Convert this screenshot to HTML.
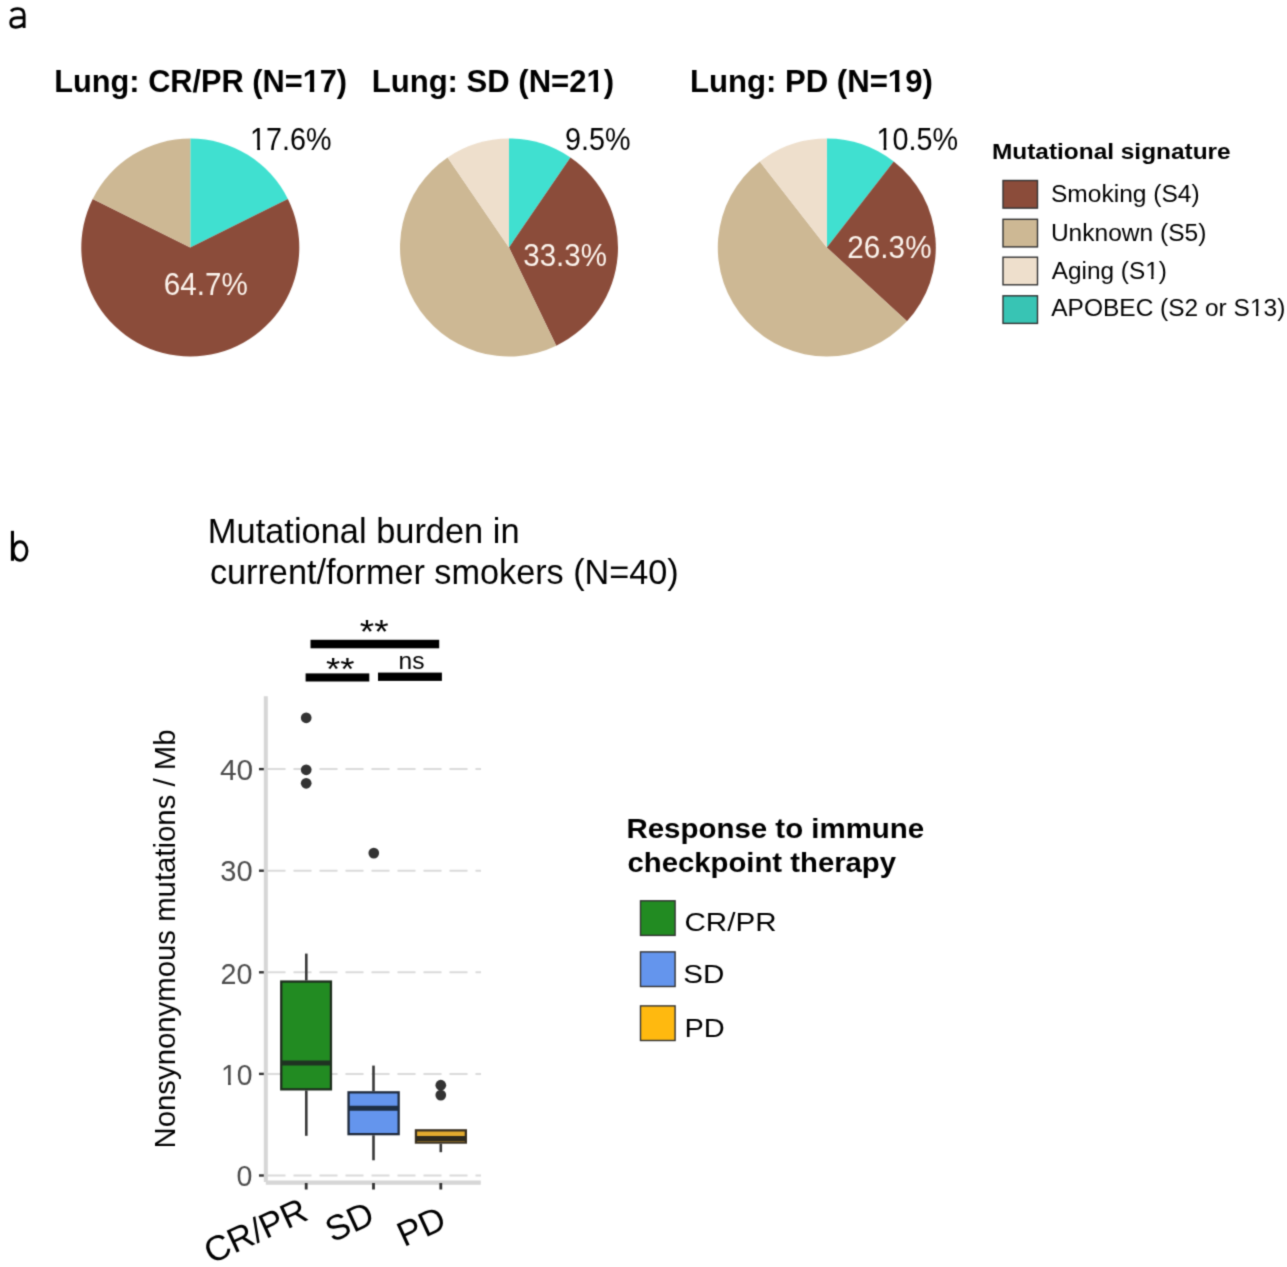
<!DOCTYPE html>
  <html><head><meta charset="utf-8"><style>
  html,body{margin:0;padding:0;background:#fff;}
  svg{display:block;font-family:"Liberation Sans",sans-serif;}
  </style></head><body>
  <svg width="1287" height="1267" viewBox="0 0 1287 1267">
  <defs><filter id="bl" filterUnits="userSpaceOnUse" color-interpolation-filters="sRGB" x="0" y="0" width="1287" height="1267"><feConvolveMatrix order="3" kernelMatrix="0.02778 0.11111 0.02778 0.11111 0.44444 0.11111 0.02778 0.11111 0.02778" edgeMode="duplicate"/></filter></defs>
  <rect width="1287" height="1267" fill="#fff"/>
  <g filter="url(#bl)">
  <path d="M190.30,247.50 L190.30,138.50 A109,109 0 0 1 287.87,198.91 Z" fill="#40E0D0"/>
<path d="M190.30,247.50 L287.87,198.91 A109,109 0 1 1 92.73,198.91 Z" fill="#8B4C3A"/>
<path d="M190.30,247.50 L92.73,198.91 A109,109 0 0 1 190.30,138.50 Z" fill="#CDB894"/>

<path d="M509.00,247.50 L509.00,138.50 A109,109 0 0 1 570.40,157.44 Z" fill="#40E0D0"/>
<path d="M509.00,247.50 L570.40,157.44 A109,109 0 0 1 556.29,345.71 Z" fill="#8B4C3A"/>
<path d="M509.00,247.50 L556.29,345.71 A109,109 0 0 1 447.60,157.44 Z" fill="#CDB894"/>
<path d="M509.00,247.50 L447.60,157.44 A109,109 0 0 1 509.00,138.50 Z" fill="#EEDFCC"/>
<path d="M826.80,247.50 L826.80,138.50 A109,109 0 0 1 893.75,161.48 Z" fill="#40E0D0"/>
<path d="M826.80,247.50 L893.75,161.48 A109,109 0 0 1 906.99,321.32 Z" fill="#8B4C3A"/>
<path d="M826.80,247.50 L906.99,321.32 A109,109 0 1 1 759.85,161.48 Z" fill="#CDB894"/>
<path d="M826.80,247.50 L759.85,161.48 A109,109 0 0 1 826.80,138.50 Z" fill="#EEDFCC"/>
<text x="54.28" y="92.3" font-size="32" font-weight="bold" fill="#000" textLength="292.84" lengthAdjust="spacingAndGlyphs">Lung: CR/PR (N=17)</text>
<text x="371.76" y="92.3" font-size="32" font-weight="bold" fill="#000" textLength="242.37" lengthAdjust="spacingAndGlyphs">Lung: SD (N=21)</text>
<text x="689.96" y="92.3" font-size="32" font-weight="bold" fill="#000" textLength="242.88" lengthAdjust="spacingAndGlyphs">Lung: PD (N=19)</text>
<text x="250.12" y="150.1" font-size="30.5" font-weight="normal" fill="#000" textLength="81.38" lengthAdjust="spacingAndGlyphs">17.6%</text>
<text x="564.96" y="150.1" font-size="30.5" font-weight="normal" fill="#000" textLength="65.54" lengthAdjust="spacingAndGlyphs">9.5%</text>
<text x="876.52" y="150.1" font-size="30.5" font-weight="normal" fill="#000" textLength="81.48" lengthAdjust="spacingAndGlyphs">10.5%</text>
<text x="163.76" y="294.7" font-size="30.5" font-weight="normal" fill="#FBF3EC" textLength="83.98" lengthAdjust="spacingAndGlyphs">64.7%</text>
<text x="523.33" y="265.7" font-size="30.5" font-weight="normal" fill="#FBF3EC" textLength="83.60" lengthAdjust="spacingAndGlyphs">33.3%</text>
<text x="847.35" y="257.5" font-size="30.5" font-weight="normal" fill="#FBF3EC" textLength="84.19" lengthAdjust="spacingAndGlyphs">26.3%</text>
<text x="991.99" y="159.2" font-size="22" font-weight="bold" fill="#000" textLength="238.65" lengthAdjust="spacingAndGlyphs">Mutational signature</text>
<text x="1051.01" y="202.4" font-size="24.7" font-weight="normal" fill="#000" textLength="148.65" lengthAdjust="spacingAndGlyphs">Smoking (S4)</text>
<text x="1050.91" y="240.6" font-size="24.7" font-weight="normal" fill="#000" textLength="155.40" lengthAdjust="spacingAndGlyphs">Unknown (S5)</text>
<text x="1051.70" y="278.7" font-size="24.7" font-weight="normal" fill="#000" textLength="115.12" lengthAdjust="spacingAndGlyphs">Aging (S1)</text>
<text x="1051.30" y="315.7" font-size="24.7" font-weight="normal" fill="#000" textLength="233.99" lengthAdjust="spacingAndGlyphs">APOBEC (S2 or S13)</text>
<text x="207.89" y="542.6" font-size="34.3" font-weight="normal" fill="#000" textLength="311.71" lengthAdjust="spacingAndGlyphs">Mutational burden in</text>
<text x="209.90" y="584.3" font-size="34.3" font-weight="normal" fill="#000" textLength="468.89" lengthAdjust="spacingAndGlyphs">current/former smokers (N=40)</text>
<text x="359.77" y="642.5" font-size="32.8" font-weight="normal" fill="#000" textLength="28.83" lengthAdjust="spacingAndGlyphs">**</text>
<text x="325.93" y="680.2" font-size="31.3" font-weight="normal" fill="#000" textLength="28.49" lengthAdjust="spacingAndGlyphs">**</text>
<text x="398.61" y="669.0" font-size="23.5" font-weight="normal" fill="#000" textLength="25.96" lengthAdjust="spacingAndGlyphs">ns</text>
<text x="219.97" y="780.0" font-size="29" font-weight="normal" fill="#4D4D4D" textLength="33.23" lengthAdjust="spacingAndGlyphs">40</text>
<text x="220.30" y="881.0" font-size="29" font-weight="normal" fill="#4D4D4D" textLength="32.37" lengthAdjust="spacingAndGlyphs">30</text>
<text x="220.61" y="984.0" font-size="29" font-weight="normal" fill="#4D4D4D" textLength="31.94" lengthAdjust="spacingAndGlyphs">20</text>
<text x="221.05" y="1085.0" font-size="29" font-weight="normal" fill="#4D4D4D" textLength="31.49" lengthAdjust="spacingAndGlyphs">10</text>
<text x="236.51" y="1186.3" font-size="29" font-weight="normal" fill="#4D4D4D" textLength="15.91" lengthAdjust="spacingAndGlyphs">0</text>
<text x="626.42" y="838.0" font-size="28.3" font-weight="bold" fill="#000" textLength="297.80" lengthAdjust="spacingAndGlyphs">Response to immune</text>
<text x="627.46" y="872.2" font-size="28.3" font-weight="bold" fill="#000" textLength="268.60" lengthAdjust="spacingAndGlyphs">checkpoint therapy</text>
<text x="684.49" y="931.0" font-size="26.6" font-weight="normal" fill="#000" textLength="92.06" lengthAdjust="spacingAndGlyphs">CR/PR</text>
<text x="683.38" y="983.4" font-size="26.6" font-weight="normal" fill="#000" textLength="41.08" lengthAdjust="spacingAndGlyphs">SD</text>
<text x="684.42" y="1037.1" font-size="26.6" font-weight="normal" fill="#000" textLength="40.32" lengthAdjust="spacingAndGlyphs">PD</text>
<path d="M11.0,11.3 C12.8,9.2 15.2,8.6 17.6,8.6 C21.6,8.6 24.1,10.4 24.1,14.6 L24.1,28 M24.1,17.7 L17.2,17.7 C12.9,17.7 10.75,19.8 10.75,22.8 C10.75,25.8 12.9,27.2 15.7,27.2 C19.2,27.2 22.2,25.6 24.1,23.2" fill="none" stroke="#000" stroke-width="2.9"/>
<line x1="12.45" y1="530.85" x2="12.45" y2="560.8" stroke="#000" stroke-width="3.1"/>
<ellipse cx="20.05" cy="551.05" rx="6.9" ry="9.3" fill="none" stroke="#000" stroke-width="2.9"/>
<rect x="1003" y="180.5" width="34.5" height="27.6" fill="#8B4C3A" stroke="#333" stroke-width="1.4"/>
<rect x="1003" y="219.3" width="34.5" height="27.6" fill="#CDB894" stroke="#333" stroke-width="1.4"/>
<rect x="1003" y="257.2" width="34.5" height="27.6" fill="#EEDFCC" stroke="#333" stroke-width="1.4"/>
<rect x="1003" y="295.8" width="34.5" height="27.6" fill="#38C4B4" stroke="#333" stroke-width="1.4"/>
<rect x="310.5" y="639.8" width="128.7" height="8.5" fill="#000"/>
<rect x="305.6" y="673.4" width="63.7" height="8.1" fill="#000"/>
<rect x="378" y="672.6" width="63.9" height="8.3" fill="#000"/>
<line x1="267.5" y1="1175.5" x2="481" y2="1175.5" stroke="#DADADA" stroke-width="2" stroke-dasharray="18 8"/>
<line x1="259" y1="1175.5" x2="266" y2="1175.5" stroke="#333" stroke-width="2.4"/>
<line x1="267.5" y1="1073.9" x2="481" y2="1073.9" stroke="#DADADA" stroke-width="2" stroke-dasharray="18 8"/>
<line x1="259" y1="1073.9" x2="266" y2="1073.9" stroke="#333" stroke-width="2.4"/>
<line x1="267.5" y1="972.3" x2="481" y2="972.3" stroke="#DADADA" stroke-width="2" stroke-dasharray="18 8"/>
<line x1="259" y1="972.3" x2="266" y2="972.3" stroke="#333" stroke-width="2.4"/>
<line x1="267.5" y1="870.7" x2="481" y2="870.7" stroke="#DADADA" stroke-width="2" stroke-dasharray="18 8"/>
<line x1="259" y1="870.7" x2="266" y2="870.7" stroke="#333" stroke-width="2.4"/>
<line x1="267.5" y1="769.1" x2="481" y2="769.1" stroke="#DADADA" stroke-width="2" stroke-dasharray="18 8"/>
<line x1="259" y1="769.1" x2="266" y2="769.1" stroke="#333" stroke-width="2.4"/>
<line x1="265.8" y1="696.2" x2="265.8" y2="1182" stroke="#D6D6D6" stroke-width="4"/>
<line x1="265.8" y1="1182.6" x2="480.8" y2="1182.6" stroke="#D6D6D6" stroke-width="4.2"/>
<line x1="306.2" y1="1183" x2="306.2" y2="1189.5" stroke="#333" stroke-width="2.8"/>
<line x1="373.5" y1="1183" x2="373.5" y2="1189.5" stroke="#333" stroke-width="2.8"/>
<line x1="440.8" y1="1183" x2="440.8" y2="1189.5" stroke="#333" stroke-width="2.8"/>
<line x1="306.3" y1="953.6" x2="306.3" y2="980.4" stroke="#383838" stroke-width="2.6"/>
<line x1="306.3" y1="1090.5" x2="306.3" y2="1135.8" stroke="#383838" stroke-width="2.6"/>
<rect x="281.25" y="981.55" width="49.7" height="107.80000000000003" fill="#228B22" stroke="#1E2E1E" stroke-width="2.3"/>
<line x1="281.25" y1="1063.1" x2="330.95000000000005" y2="1063.1" stroke="#1F3322" stroke-width="5"/>
<line x1="373.5" y1="1065.6" x2="373.5" y2="1091.2" stroke="#383838" stroke-width="2.6"/>
<line x1="373.5" y1="1135.3" x2="373.5" y2="1160.3" stroke="#383838" stroke-width="2.6"/>
<rect x="348.54999999999995" y="1092.3500000000001" width="50.10000000000004" height="41.79999999999991" fill="#6495ED" stroke="#1F2A3C" stroke-width="2.3"/>
<line x1="348.54999999999995" y1="1108.3" x2="398.65000000000003" y2="1108.3" stroke="#1E2F45" stroke-width="5"/>
<line x1="440.8" y1="1143.7" x2="440.8" y2="1152.2" stroke="#383838" stroke-width="2.6"/>
<rect x="415.95" y="1130.3500000000001" width="49.89999999999999" height="12.2" fill="#E2AA2E" stroke="#3A3020" stroke-width="2.3"/>
<line x1="415.95" y1="1138.6" x2="465.85" y2="1138.6" stroke="#2E2A1E" stroke-width="5"/>
<circle cx="306.2" cy="717.8" r="5.35" fill="#333"/>
<circle cx="306.2" cy="769.8" r="5.35" fill="#333"/>
<circle cx="306.2" cy="783.3" r="5.35" fill="#333"/>
<circle cx="373.8" cy="853.1" r="5.35" fill="#333"/>
<circle cx="440.8" cy="1085.2" r="5.35" fill="#333"/>
<circle cx="440.8" cy="1095.1" r="5.35" fill="#333"/>
<text transform="translate(175,1148.5) rotate(-90)" font-size="30.4" fill="#000" textLength="419" lengthAdjust="spacingAndGlyphs">Nonsynonymous mutations / Mb</text>
<text transform="translate(310.1,1219) rotate(-24.5)" font-size="35" fill="#000" text-anchor="end">CR/PR</text>
<text transform="translate(376.5,1222.5) rotate(-24.5)" font-size="35" fill="#000" text-anchor="end">SD</text>
<text transform="translate(448.2,1227.2) rotate(-24.5)" font-size="35" fill="#000" text-anchor="end">PD</text>
<rect x="640.5" y="900.8" width="34.6" height="34.6" fill="#228B22" stroke="#333" stroke-width="1.4"/>
<rect x="640.5" y="951.9" width="34.6" height="34.6" fill="#6495ED" stroke="#333" stroke-width="1.4"/>
<rect x="640.5" y="1005.9" width="34.6" height="34.6" fill="#FFB90F" stroke="#333" stroke-width="1.4"/>
<rect x="303.30" y="87.73" width="6.42" height="5.37" fill="#fff"/>
<rect x="314.24" y="87.73" width="5.27" height="5.37" fill="#fff"/>
<rect x="587.13" y="87.73" width="6.49" height="5.37" fill="#fff"/>
<rect x="598.18" y="87.73" width="5.32" height="5.37" fill="#fff"/>
<rect x="888.48" y="87.73" width="6.50" height="5.37" fill="#fff"/>
<rect x="899.55" y="87.73" width="5.33" height="5.37" fill="#fff"/>
<rect x="250.96" y="146.52" width="6.24" height="4.38" fill="#fff"/>
<rect x="260.02" y="146.52" width="5.52" height="4.38" fill="#fff"/>
<rect x="877.36" y="146.52" width="6.25" height="4.38" fill="#fff"/>
<rect x="886.43" y="146.52" width="5.53" height="4.38" fill="#fff"/>
<rect x="1145.87" y="275.55" width="5.30" height="3.95" fill="#fff"/>
<rect x="1153.56" y="275.55" width="4.69" height="3.95" fill="#fff"/>
<rect x="1250.61" y="312.55" width="5.33" height="3.95" fill="#fff"/>
<rect x="1258.34" y="312.55" width="4.72" height="3.95" fill="#fff"/>
<rect x="221.88" y="1081.53" width="6.15" height="4.27" fill="#fff"/>
<rect x="230.81" y="1081.53" width="5.45" height="4.27" fill="#fff"/>
  </g>
  </svg></body></html>
